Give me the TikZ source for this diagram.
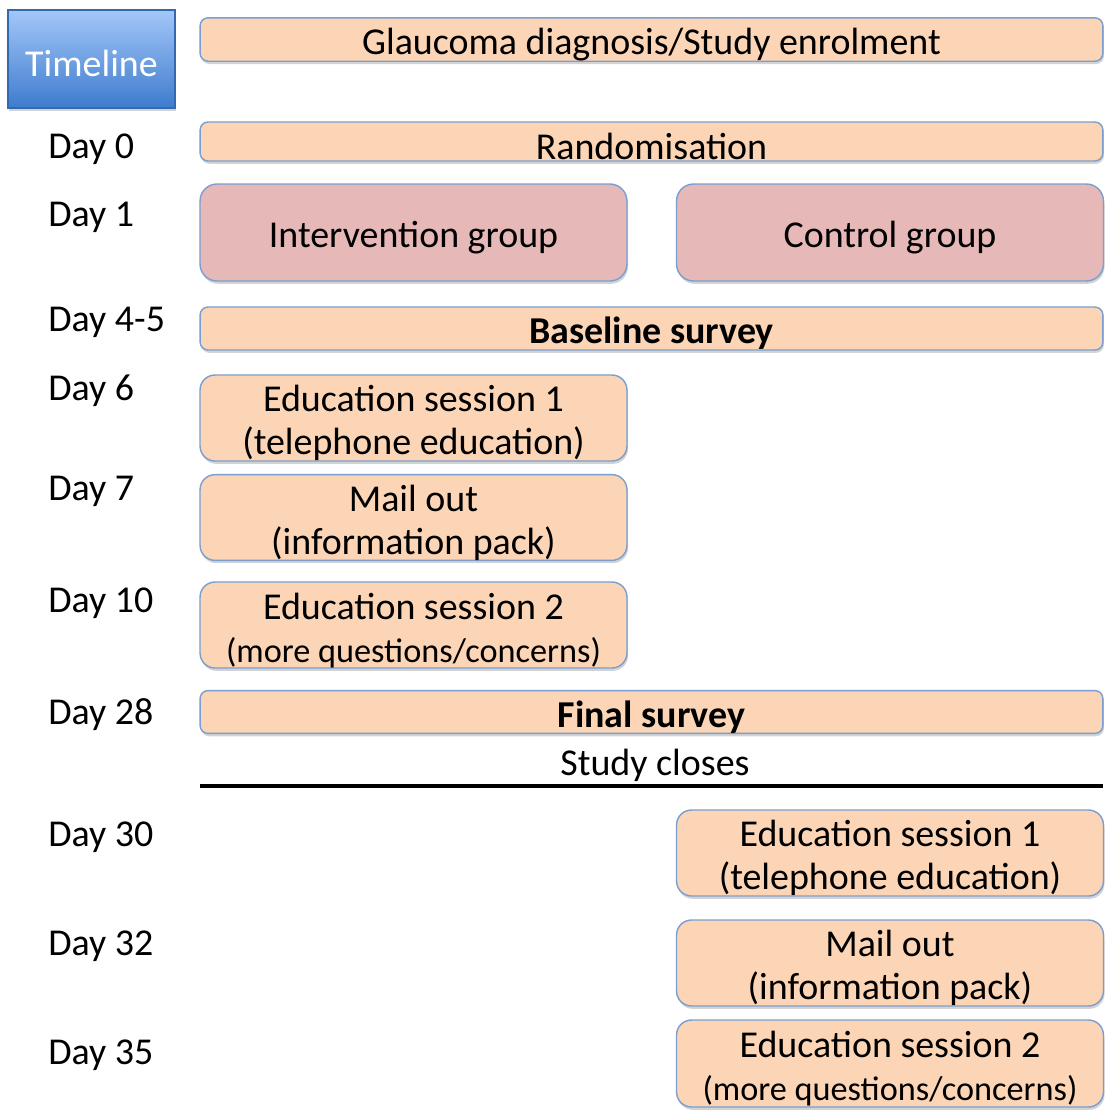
\documentclass[tikz,border=0pt]{standalone}
\usepackage{fontspec}
\setmainfont{Carlito}
\usetikzlibrary{shadows}
\definecolor{peach}{RGB}{251,213,181}
\definecolor{rose}{RGB}{230,185,184}
\definecolor{edge}{RGB}{122,158,206}
\definecolor{tltop}{RGB}{163,199,248}
\definecolor{tlbot}{RGB}{62,124,206}
\tikzset{bar/.style  = {rectangle, rounded corners=0.16cm, draw=edge, line width=0.8pt, fill=peach, inner sep=0pt,
                        text height=21pt,
                        drop shadow={shadow xshift=0.6pt, shadow yshift=-1.6pt, opacity=0.35}},
         grp/.style  = {bar, fill=rose, rounded corners=0.34cm},
         edu/.style  = {bar, rounded corners=0.3cm, align=center, text height=45.3pt},
         wide/.style = {minimum width=18.06cm},
         half/.style = {minimum width=8.54cm},
         day/.style  = {anchor=west, inner sep=0pt}}

\begin{document}
\begin{tikzpicture}[x=0.02cm, y=-0.02cm, font=\fontsize{21.6}{24.5}\selectfont]
    \useasboundingbox (0,0) rectangle (1107,1117);
    \node[rectangle, draw=tlbot!85!black, line width=0.6pt, top color=tltop, bottom color=tlbot, text=white,
          minimum width=3.34cm, minimum height=1.96cm, inner sep=0pt, text height=20pt,
          drop shadow={shadow xshift=0.6pt, shadow yshift=-1.6pt, opacity=0.35}] (tl) at (91.5,59) {Timeline};
    % days
    \node[day] (d0)  at (48,149)  {Day 0};
    \node[day] (d1)  at (48,217)  {Day 1};
    \node[day] (d45) at (48,322)  {Day 4-5};
    \node[day] (d6)  at (48,391)  {Day 6};
    \node[day] (d7)  at (48,491)  {Day 7};
    \node[day] (d10) at (48,603)  {Day 10};
    \node[day] (d28) at (48,715)  {Day 28};
    \node[day] (d30) at (48,837)  {Day 30};
    \node[day] (d32) at (48,946)  {Day 32};
    \node[day] (d35) at (48,1055) {Day 35};
    % study part
    \node[bar, wide, minimum height=0.70cm] (enrol) at (651.5,39.5) {Glaucoma diagnosis/Study enrolment};
    \node[bar, wide, minimum height=0.78cm] (rand)  at (651.5,141.5) {Randomisation};
    \node[grp, half, minimum height=1.94cm] (ig) at (413.5,232.5) {Intervention group};
    \node[grp, half, minimum height=1.94cm] (cg) at (890,232.5) {Control group};
    \node[bar, wide, minimum height=0.86cm] (base) at (651.5,328.5) {\textbf{Baseline survey}};
    \node[edu, half, minimum height=1.72cm] (ie1) at (413.5,418) {Education session 1\\(telephone education)};
    \node[edu, half, minimum height=1.70cm] (im)  at (413.5,517.5) {Mail out\\(information pack)};
    \node[edu, half, minimum height=1.72cm] (ie2) at (413.5,625) {Education session 2\\{\fontsize{19.5}{22}\selectfont(more questions/concerns)}};
    \node[bar, wide, minimum height=0.80cm] (final) at (651.5,712) {\textbf{Final survey}};
    \node (close) at (655,765) {Study closes};
    \coordinate (cl) at (200,786);
    \coordinate (cr) at (1103,786);
    \draw[line width=1.8pt] (cl) -- (cr);
    % after study
    \node[edu, half, minimum height=1.72cm] (ce1) at (890,853) {Education session 1\\(telephone education)};
    \node[edu, half, minimum height=1.72cm] (cm)  at (890,963) {Mail out\\(information pack)};
    \node[edu, half, minimum height=1.74cm] (ce2) at (890,1063.5) {Education session 2\\{\fontsize{19.5}{22}\selectfont(more questions/concerns)}};
\end{tikzpicture}
\end{document}
